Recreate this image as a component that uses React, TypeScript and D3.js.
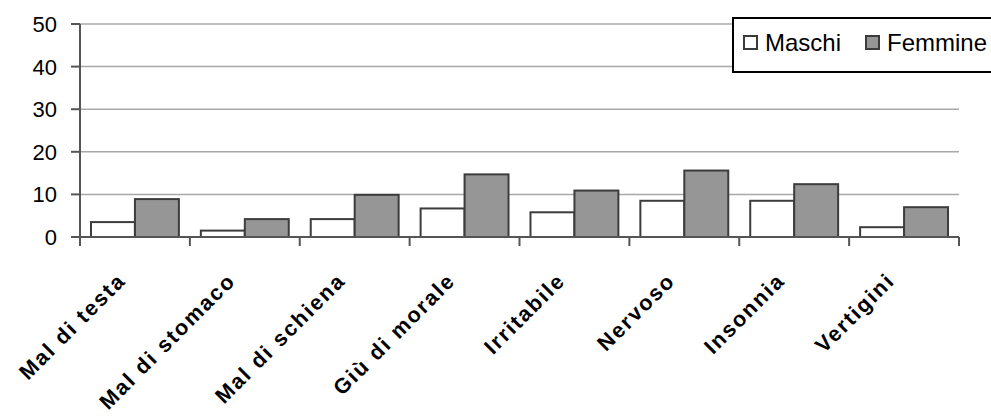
import React from "react";
import * as d3 from "d3";

const categories = [
  "Mal di testa",
  "Mal di stomaco",
  "Mal di schiena",
  "Giù di morale",
  "Irritabile",
  "Nervoso",
  "Insonnia",
  "Vertigini",
];
const seriesNames = ["Maschi", "Femmine"];
const maschi = [3.5, 1.5, 4.2, 6.7, 5.8, 8.5, 8.5, 2.3];
const femmine = [8.9, 4.2, 9.9, 14.7, 10.9, 15.6, 12.4, 7.0];
const yTicks = [0, 10, 20, 30, 40, 50];

const W = 991;
const H = 419;
const FONT = "'Liberation Sans', Arial, Helvetica, sans-serif";

export default function App() {
  const left = 80;
  const right = 959;
  const top = 24;
  const bottom = 237;

  const x0 = d3.scaleBand<string>().domain(categories).range([left, right]).paddingInner(0).paddingOuter(0);
  const x1 = d3
    .scaleBand<string>()
    .domain(seriesNames)
    .range([0, x0.bandwidth()])
    .paddingInner(0)
    .paddingOuter(0.25);
  const y = d3.scaleLinear().domain([0, 50]).range([bottom, top]);

  const fills = ["#ffffff", "#969696"];
  const data = [maschi, femmine];

  const boundaries = categories.map((c) => x0(c) as number).concat([right]);

  return (
    <svg
      width={W}
      height={H}
      style={{ position: "absolute", left: 0, top: 0, background: "#fff" }}
      fontFamily={FONT}
    >
      <rect x={0} y={0} width={W} height={H} fill="#fff" />
      {/* gridlines */}
      {yTicks.slice(1).map((t) => (
        <line key={"g" + t} x1={left} x2={right} y1={y(t)} y2={y(t)} stroke="#a8a8a8" strokeWidth={1.5} />
      ))}
      {/* bars */}
      {categories.map((c, i) =>
        seriesNames.map((s, j) => {
          const v = data[j][i];
          const bx = (x0(c) as number) + (x1(s) as number);
          return (
            <rect
              key={c + s}
              x={bx}
              y={y(v)}
              width={x1.bandwidth()}
              height={y(0) - y(v)}
              fill={fills[j]}
              stroke="#3c3c3c"
              strokeWidth={2}
            />
          );
        })
      )}
      {/* y axis */}
      <line x1={left} x2={left} y1={top} y2={bottom + 8} stroke="#555" strokeWidth={2} />
      {yTicks.map((t) => (
        <g key={"t" + t}>
          <line x1={left - 9} x2={left} y1={y(t)} y2={y(t)} stroke="#555" strokeWidth={2} />
          <text x={57} y={y(t)} dy="0.36em" textAnchor="end" fontSize={22} fill="#000">
            {t}
          </text>
        </g>
      ))}
      {/* x axis */}
      <line x1={left} x2={right} y1={bottom} y2={bottom} stroke="#555" strokeWidth={2} />
      {boundaries.map((b, i) => (
        <line key={"xb" + i} x1={b} x2={b} y1={bottom} y2={bottom + 9} stroke="#555" strokeWidth={2} />
      ))}
      {categories.map((c) => {
        const cx = (x0(c) as number) + x0.bandwidth() / 2 - 8;
        const cy = 282;
        return (
          <text
            key={"l" + c}
            transform={`translate(${cx},${cy}) rotate(-45)`}
            textAnchor="end"
            fontSize={21.5}
            fontWeight="bold"
            letterSpacing={1.9}
            fill="#000"
          >
            {c}
          </text>
        );
      })}
      {/* legend */}
      <rect x={733} y={18} width={300} height={54} fill="#fff" stroke="#000" strokeWidth={2} />
      <rect x={744} y={36} width={13} height={13} fill={fills[0]} stroke="#3c3c3c" strokeWidth={2} />
      <text x={765} y={51} fontSize={24} fill="#000">
        {seriesNames[0]}
      </text>
      <rect x={866} y={36} width={13} height={13} fill={fills[1]} stroke="#3c3c3c" strokeWidth={2} />
      <text x={887} y={51} fontSize={24} fill="#000">
        {seriesNames[1]}
      </text>
    </svg>
  );
}
